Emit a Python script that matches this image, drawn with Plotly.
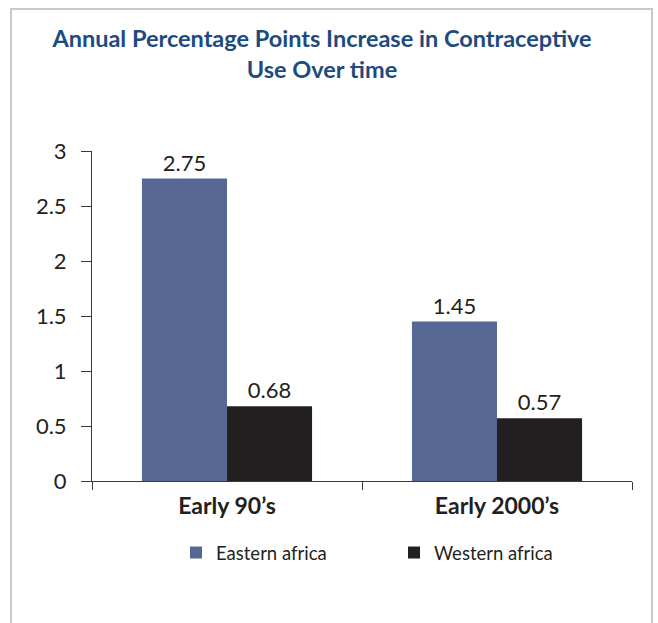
import plotly.graph_objects as go

# Data
periods = ["Early 90\u2019s", "Early 2000\u2019s"]
eastern_africa = [2.75, 1.45]
western_africa = [0.68, 0.57]
y_ticks = [0, 0.5, 1, 1.5, 2, 2.5, 3]

FONT = "Lato, Carlito, Open Sans, sans-serif"
TEXT = "#231f20"

fig = go.Figure()
fig.add_trace(go.Bar(
    name="Eastern africa", x=periods, y=eastern_africa,
    marker=dict(color="#566893", line=dict(width=0)),
    text=[f"{v:.2f}" for v in eastern_africa], textposition="outside",
    textfont=dict(size=22, color=TEXT, family=FONT), cliponaxis=False,
))
fig.add_trace(go.Bar(
    name="Western africa", x=periods, y=western_africa,
    marker=dict(color="#231f20", line=dict(width=0)),
    text=[f"{v:.2f}" for v in western_africa], textposition="outside",
    textfont=dict(size=22, color=TEXT, family=FONT), cliponaxis=False,
))

L, R, T, B = 92, 26, 151, 142
W, H = 658, 623
pw, ph = W - L - R, H - T - B

def px_x(p):
    return (p - L) / pw

def px_y(p):
    return (H - B - p) / ph

fig.update_layout(
    width=W, height=H,
    margin=dict(l=L, r=R, t=T, b=B, autoexpand=False),
    paper_bgcolor="white", plot_bgcolor="white",
    barmode="group", bargap=0.37, bargroupgap=0,
    font=dict(family=FONT, color=TEXT),
    title=dict(
        text="Annual Percentage Points Increase in Contraceptive<br>Use Over time",
        x=px_x(322), xanchor="center", xref="paper",
        y=1 - 47 / H, yanchor="middle",
        font=dict(size=23.5, color="#1d4a80", family=FONT, weight="bold"),
    ),
    showlegend=True,
    legend=dict(
        orientation="h", x=px_x(176), xanchor="left",
        y=px_y(553), yanchor="middle",
        font=dict(size=18.5, color=TEXT, family=FONT),
        entrywidth=173, entrywidthmode="pixels",
        bgcolor="rgba(0,0,0,0)",
    ),
    xaxis=dict(
        showline=True, linecolor="#3a3a3a", linewidth=1,
        ticks="outside", tickson="boundaries", ticklen=8,
        tickcolor="#3a3a3a",
        tickfont=dict(size=23, color=TEXT, family=FONT, weight="bold"),
        ticklabelstandoff=4,
        showgrid=False, zeroline=False,
    ),
    yaxis=dict(
        range=[0, 3], tickvals=y_ticks, ticktext=[f"{v:g}" for v in y_ticks],
        showline=True, linecolor="#3a3a3a", linewidth=1,
        ticks="outside", ticklen=10, tickcolor="#3a3a3a",
        tickfont=dict(size=22, color=TEXT, family=FONT),
        ticklabelstandoff=10,
        showgrid=False, zeroline=False,
    ),
    shapes=[dict(
        type="rect", xref="paper", yref="paper",
        x0=px_x(11), x1=px_x(652), y0=px_y(640), y1=px_y(9),
        line=dict(color="#c9c9c9", width=2), fillcolor="rgba(0,0,0,0)",
        layer="below",
    )],
)

fig.write_html("out.html")
